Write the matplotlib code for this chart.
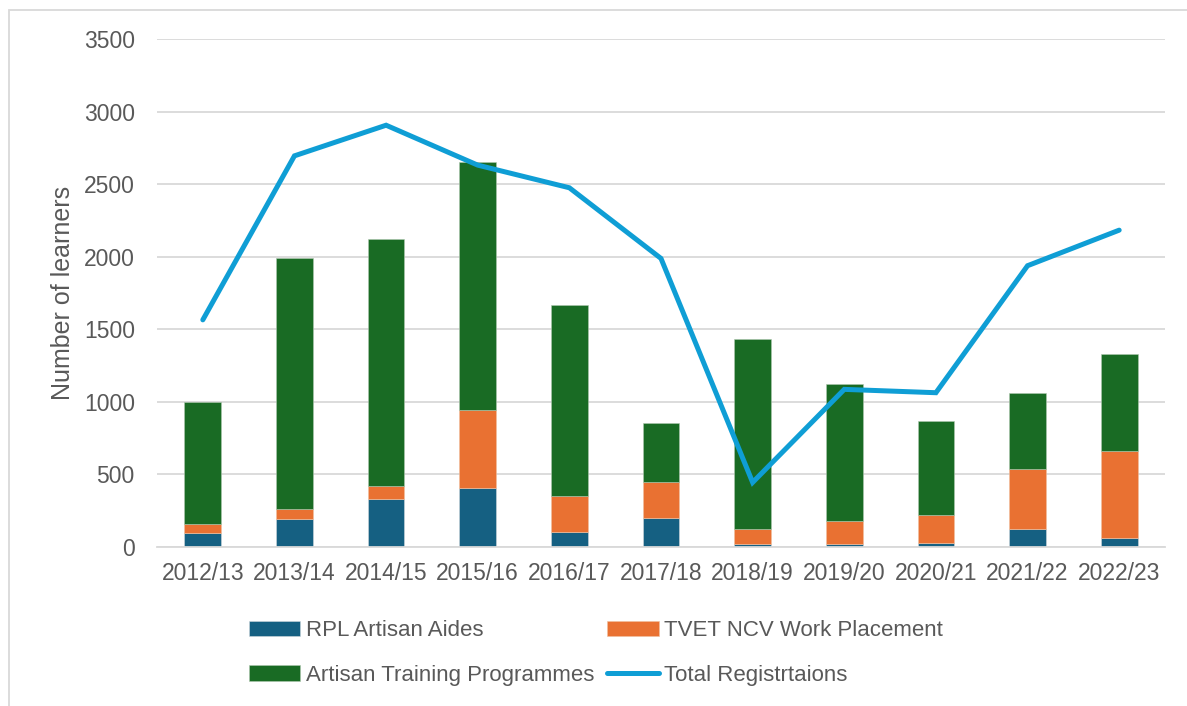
import matplotlib.pyplot as plt
from matplotlib.patches import Rectangle
import numpy as np

years = ["2012/13", "2013/14", "2014/15", "2015/16", "2016/17", "2017/18",
         "2018/19", "2019/20", "2020/21", "2021/22", "2022/23"]
rpl = [95, 190, 333, 408, 103, 200, 21, 21, 30, 124, 60]
tvet = [61, 72, 89, 533, 250, 248, 103, 158, 190, 413, 601]
artisan = [845, 1731, 1701, 1710, 1314, 406, 1306, 946, 650, 524, 666]
total = [1565, 2695, 2906, 2631, 2475, 1988, 445, 1086, 1063, 1938, 2183]

plt.rcParams['font.family'] = ['Liberation Sans', 'DejaVu Sans']

fig = plt.figure(figsize=(11.87, 7.06), dpi=100)
ax = fig.add_axes([157/1187, 159/706, 1008/1187, 508/706])

x = np.arange(len(years))
w = 0.4
b1 = ax.bar(x, rpl, w, color="#156082", edgecolor="#d0d8dc", linewidth=0.4, zorder=2)
b2 = ax.bar(x, tvet, w, bottom=rpl, color="#E97132", edgecolor="#f0c0a0", linewidth=0.4, zorder=2)
bottom2 = np.array(rpl) + np.array(tvet)
b3 = ax.bar(x, artisan, w, bottom=bottom2, color="#196B24", edgecolor="#b0c8b0", linewidth=0.4, zorder=2)
ln, = ax.plot(x, total, color="#0F9ED5", linewidth=3.6, solid_capstyle="round",
              solid_joinstyle="miter", zorder=3)

ax.set_xlim(-0.5, len(years) - 0.5)
ax.set_ylim(0, 3500)
ax.set_yticks(range(0, 3501, 500))
ax.set_xticks(x)
ax.set_xticklabels(years)
ax.grid(axis='y', color="#D9D9D9", linewidth=1.3, zorder=0)
ax.set_axisbelow(True)
for s in ['top', 'right', 'left']:
    ax.spines[s].set_visible(False)
ax.spines['bottom'].set_color("#D9D9D9")
ax.spines['bottom'].set_linewidth(1.3)
ax.tick_params(axis='both', length=0, labelsize=16.5, colors="#595959")
ax.tick_params(axis='y', pad=16)
ax.tick_params(axis='x', pad=11)
ax.set_ylabel("Number of learners", fontsize=18, color="#595959", labelpad=6)

fig.legend([b1, b3, b2, ln],
           ["RPL Artisan Aides", "Artisan Training Programmes",
            "TVET NCV Work Placement", "Total Registrtaions"],
           ncol=2, loc='center', bbox_to_anchor=(596/1187, 53/706),
           frameon=False, fontsize=16, labelcolor="#595959",
           handlelength=2.3, handleheight=0.7, handletextpad=0.25,
           columnspacing=0.6, labelspacing=1.05)

fig.patches.append(Rectangle((9/1187, -0.05), 1.2, (696/706) + 0.05,
                             transform=fig.transFigure, fill=False,
                             edgecolor="#D9D9D9", linewidth=1.3))

fig.savefig("out.png", dpi=100)
